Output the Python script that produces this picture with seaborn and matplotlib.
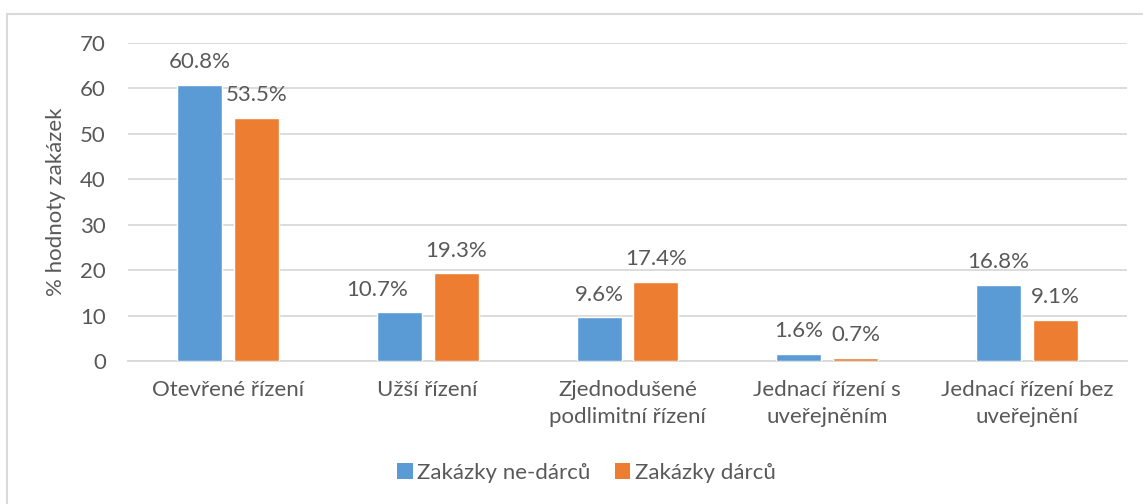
import pandas as pd
import seaborn as sns
import matplotlib.pyplot as plt
from matplotlib.lines import Line2D
from matplotlib.patches import Patch

categories = ["Otevřené řízení", "Užší řízení", "Zjednodušené\npodlimitní řízení",
              "Jednací řízení s\nuveřejněním", "Jednací řízení bez\nuveřejnění"]
nedarci = [60.8, 10.7, 9.6, 1.6, 16.8]
darci = [53.5, 19.3, 17.4, 0.7, 9.1]
series = ["Zakázky ne-dárců", "Zakázky dárců"]
colors = ["#5B9BD5", "#ED7D31"]
yticks = [0, 10, 20, 30, 40, 50, 60, 70]

df = pd.DataFrame({
    "kategorie": categories * 2,
    "hodnota": nedarci + darci,
    "serie": [series[0]] * len(categories) + [series[1]] * len(categories),
})

sns.set_style("white")
plt.rcParams['font.family'] = ['Lato', 'DejaVu Sans']
txt = "#595959"
fs = 16

fig = plt.figure(figsize=(11.43, 5.04), dpi=100)
ax = fig.add_axes([0.112, 0.2837, 0.874, 0.631])

sns.barplot(data=df, x="kategorie", y="hodnota", hue="serie", palette=colors,
            width=0.57, gap=0.21, ax=ax, legend=False, saturation=1, zorder=3)

ax.set_ylim(0, 70)
ax.set_xlim(-0.5, 4.5)
ax.set_yticks(yticks)
ax.grid(axis="y", color="#D9D9D9", linewidth=1.3, zorder=0)
ax.set_axisbelow(True)
for s in ["left", "right", "top"]:
    ax.spines[s].set_visible(False)
ax.spines["bottom"].set_color("#D9D9D9")
ax.spines["bottom"].set_linewidth(1.3)
ax.tick_params(axis="both", length=0, labelsize=fs, labelcolor=txt)
ax.tick_params(axis="y", pad=16)
ax.tick_params(axis="x", pad=14)
for lbl in ax.get_xticklabels():
    lbl.set_linespacing(1.4)
ax.set_xlabel("")
ax.set_ylabel("% hodnoty zakázek", fontsize=fs, color=txt)
ax.yaxis.set_label_coords(-0.062, 0.5)

# popisky hodnot
for ci, cont in enumerate(ax.containers):
    for j, bar in enumerate(cont):
        h = bar.get_height()
        dx = -22 if (ci == 0 and j == 1) else 0
        ax.annotate(f"{h:.1f}%", (bar.get_x() + bar.get_width() / 2, h),
                    xytext=(dx * 0.72, 9), textcoords="offset points",
                    ha="center", va="bottom", fontsize=fs, color=txt)

handles = [Patch(facecolor=c, edgecolor="none") for c in colors]
fig.legend(handles, series, loc="center", bbox_to_anchor=(0.513, 0.062), ncol=2,
           frameon=False, fontsize=fs, labelcolor=txt, handlelength=0.7,
           handleheight=0.7, handletextpad=0.2, columnspacing=1.1)

# rámeček grafu
fig.add_artist(Line2D([7 / 1143, 7 / 1143], [-0.1, 1 - 13.5 / 504], color="#D9D9D9", lw=1.5))
fig.add_artist(Line2D([7 / 1143, 1.1], [1 - 13.5 / 504, 1 - 13.5 / 504], color="#D9D9D9", lw=1.5))

fig.savefig("out.png", dpi=100)
